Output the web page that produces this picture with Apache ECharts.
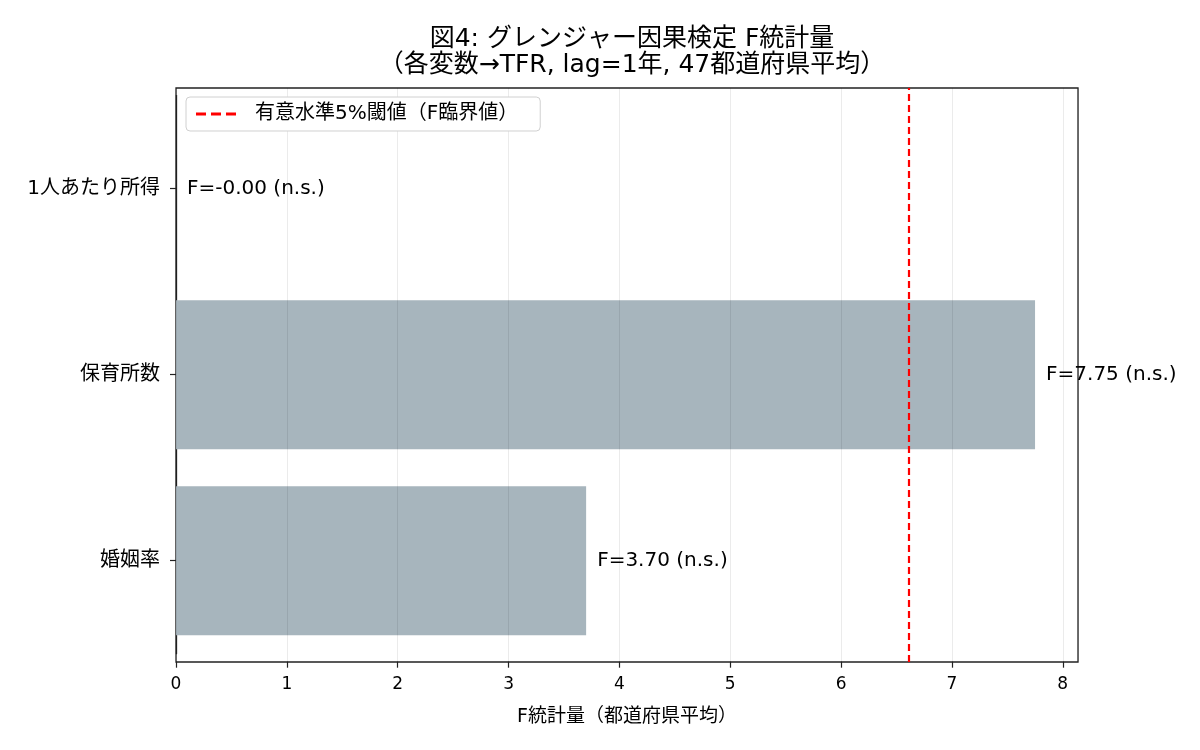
<!DOCTYPE html>
<html>
<head>
<meta charset="utf-8">
<script src="https://cdn.jsdelivr.net/npm/echarts@6/dist/echarts.min.js"></script>
<style>
html,body{margin:0;padding:0;background:#fff;}
#chart{width:1200px;height:750px;}
</style>
</head>
<body>
<div id="chart"></div>
<script>
// Data (bottom to top as in the reference)
const categories = ['婚姻率', '保育所数', '1人あたり所得'];
const fValues = [3.70, 7.75, -0.001];
const sigLabels = ['n.s.', 'n.s.', 'n.s.'];
const criticalF = 6.61;
const xTicks = [0, 1, 2, 3, 4, 5, 6, 7, 8];
const xMax = 8.1375;

const FONT = '"DejaVu Sans", "Noto Sans CJK JP", sans-serif';
const chart = echarts.init(document.getElementById('chart'));

const option = {
  backgroundColor: '#fff',
  animation: false,
  title: {
    text: '図4: グレンジャー因果検定 F統計量\n（各変数→TFR, lag=1年, 47都道府県平均）',
    left: 627,
    top: 21,
    textAlign: 'center',
    textStyle: { fontFamily: FONT, fontSize: 25, fontWeight: 'normal', color: '#000', lineHeight: 26 }
  },
  legend: {
    left: 186,
    top: 97,
    orient: 'vertical',
    padding: [7, 22, 7, 10],
    borderColor: '#d0d0d0',
    borderWidth: 1,
    borderRadius: 4,
    backgroundColor: '#fff',
    itemWidth: 40,
    itemHeight: 3,
    icon: 'path://M0,0h10v3h-10z M15,0h10v3h-10z M30,0h10v3h-10z',
    textStyle: { fontFamily: FONT, fontSize: 20, color: '#000', padding: [0, 0, 0, 14] },
    data: [{ name: '有意水準5%閾値（F臨界値）', itemStyle: { color: '#ff0000' } }]
  },
  grid: [
    // frame + vertical grid lines (full plot box)
    { left: 176, right: 122, top: 88, bottom: 88, show: true, borderColor: '#222', borderWidth: 1.3, backgroundColor: 'transparent', containLabel: false },
    // bars (inset so categories sit where matplotlib places them)
    { left: 176, right: 122, top: 95.6, bottom: 96.3, containLabel: false }
  ],
  xAxis: [
    {
      gridIndex: 0, type: 'value', min: 0, max: xMax, interval: 1, z: 3,
      axisLine: { show: false }, axisTick: { show: false }, axisLabel: { show: false },
      splitLine: { show: true, lineStyle: { color: 'rgba(0,0,0,0.08)', width: 1 } }
    },
    {
      gridIndex: 1, type: 'value', min: 0, max: xMax, interval: 1, offset: 8,
      name: 'F統計量（都道府県平均）',
      nameLocation: 'middle',
      nameGap: 46,
      nameTextStyle: { fontFamily: FONT, fontSize: 19, color: '#000' },
      axisLine: { show: false },
      axisTick: { show: true, length: 6, lineStyle: { color: '#222', width: 1.2 } },
      axisLabel: {
        fontFamily: FONT, fontSize: 17, color: '#000', margin: 14,
        showMaxLabel: false,
        formatter: v => (xTicks.indexOf(v) >= 0 ? String(v) : '')
      },
      splitLine: { show: false }
    }
  ],
  yAxis: [
    {
      gridIndex: 0, type: 'category', data: categories, show: false
    },
    {
      gridIndex: 1, type: 'category', data: categories,
      axisLine: { show: true, lineStyle: { color: '#222', width: 1.3 } },
      axisTick: { show: true, alignWithLabel: true, length: 6, lineStyle: { color: '#222', width: 1.2 } },
      axisLabel: { fontFamily: FONT, fontSize: 20, color: '#000', margin: 16 },
      splitLine: { show: false }
    }
  ],
  series: [
    {
      type: 'bar',
      xAxisIndex: 1,
      yAxisIndex: 1,
      data: fValues,
      barWidth: 149,
      itemStyle: { color: '#a7b5bd' },
      label: {
        show: true,
        position: 'right',
        distance: 11,
        fontFamily: FONT,
        fontSize: 20,
        color: '#000',
        formatter: p => 'F=' + p.value.toFixed(2) + ' (' + sigLabels[p.dataIndex] + ')'
      },
      z: 2
    },
    {
      name: '有意水準5%閾値（F臨界値）',
      type: 'line',
      xAxisIndex: 0,
      yAxisIndex: 0,
      data: [],
      itemStyle: { color: '#ff0000' },
      lineStyle: { color: '#ff0000' },
      markLine: {
        silent: true,
        symbol: 'none',
        label: { show: false },
        lineStyle: { color: '#ff0000', type: [7, 4], width: 2.2 },
        data: [{ xAxis: criticalF }]
      },
      z: 5
    }
  ]
};
chart.setOption(option);
</script>
</body>
</html>
